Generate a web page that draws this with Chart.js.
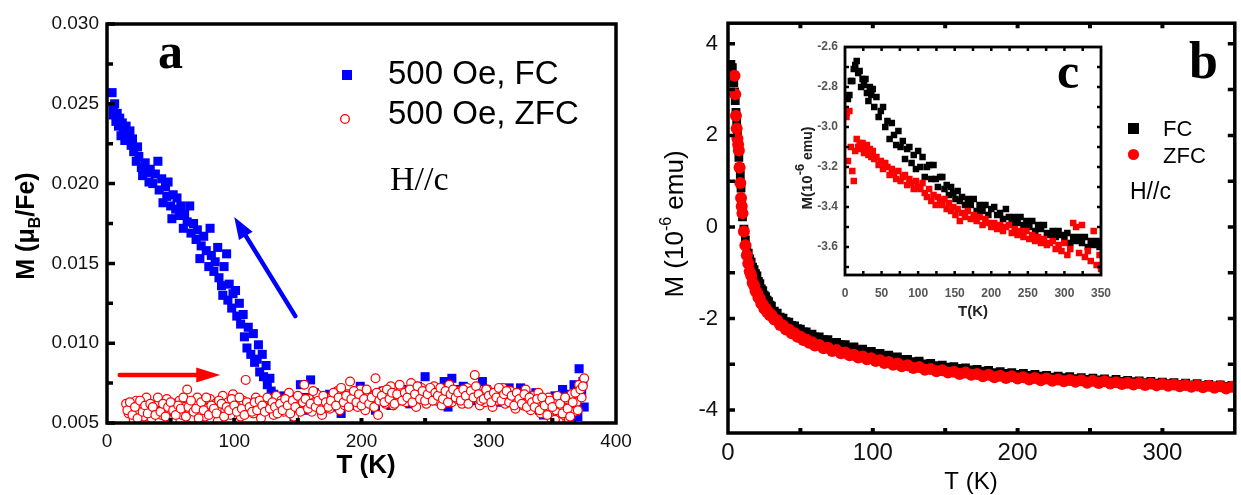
<!DOCTYPE html>
<html>
<head>
<meta charset="utf-8">
<script src="https://cdn.jsdelivr.net/npm/chart.js@4.4.1/dist/chart.umd.min.js"></script>
<style>
  html, body { margin: 0; padding: 0; background: #fff; }
  #wrap { position: relative; width: 1241px; height: 495px; overflow: hidden; background: #fff; }
  canvas { position: absolute; }
  #ca { left: 0; top: 0; }
  #cb { left: 640px; top: 0; }
  #cc { left: 780px; top: 30px; }
</style>
</head>
<body>
<div id="wrap">
  <canvas id="ca" width="660" height="495" style="width:660px;height:495px"></canvas>
  <canvas id="cb" width="601" height="495" style="width:601px;height:495px"></canvas>
  <canvas id="cc" width="360" height="295" style="width:360px;height:295px"></canvas>
</div>
<script>
// ---------- Panel a: M(T) in 500 Oe, H//c (muB/Fe) ----------
const aXTicks = [0, 100, 200, 300, 400];
const aYTicks = [0.005, 0.010, 0.015, 0.020, 0.025, 0.030];

const aFcT = [
  4,5,5,6,7,8,9,10,11,12,
  13,14,15,16,18,19,20,21,23,24,
  25,27,28,30,31,33,34,36,38,40,
  41,43,44,46,47,48,50,51,52,54,
  55,57,58,60,61,63,65,66,68,70,
  71,73,74,76,78,80,81,82,84,85,
  87,88,90,91,92,94,95,96,98,99,
  101,102,104,105,107,108,110,111,113,115,
  116,118,119,120,122,123,125,126,128,129,
  131,133,136,139,142,144,147,149,152,155,
  158,160,163,166,169,172,175,178,181,184,
  187,190,193,196,199,202,205,208,211,214,
  217,220,223,226,229,232,235,238,241,244,
  247,250,253,256,259,262,265,268,271,274,
  277,280,283,286,289,292,295,298,301,304,
  307,310,313,316,319,322,325,328,331,334,
  337,340,343,346,349,352,355,358,361,363,
  365,367,369,370,371,373,374,375
];
const aFcM = [
  0.0257,0.0248,0.0243,0.0250,0.0239,0.0244,0.0236,0.0241,0.0230,0.0238,
  0.0233,0.0227,0.0236,0.0229,0.0233,0.0224,0.0228,0.0220,0.0214,0.0223,
  0.0217,0.0210,0.0205,0.0213,0.0207,0.0201,0.0209,0.0200,0.0206,0.0214,
  0.0196,0.0203,0.0188,0.0198,0.0192,0.0201,0.0186,0.0178,0.0193,0.0184,
  0.0191,0.0180,0.0186,0.0172,0.0181,0.0176,0.0186,0.0169,0.0175,0.0165,
  0.0171,0.0153,0.0161,0.0167,0.0158,0.0148,0.0172,0.0155,0.0145,0.0151,
  0.0160,0.0141,0.0136,0.0130,0.0148,0.0156,0.0127,0.0137,0.0122,0.0131,
  0.0133,0.0117,0.0125,0.0112,0.0118,0.0104,0.0097,0.0110,0.0093,0.0106,
  0.0088,0.0090,0.0099,0.0082,0.0093,0.0079,0.0086,0.0074,0.0078,0.0070,
  0.0068,0.0066,0.0062,0.0067,0.0063,0.0057,0.0054,0.0061,0.0074,0.0066,
  0.0058,0.0077,0.0069,0.0063,0.0057,0.0062,0.0068,0.0060,0.0065,0.0056,
  0.0063,0.0068,0.0061,0.0066,0.0073,0.0069,0.0063,0.0067,0.0058,0.0064,
  0.0070,0.0066,0.0061,0.0068,0.0064,0.0071,0.0067,0.0062,0.0069,0.0073,
  0.0066,0.0079,0.0070,0.0064,0.0072,0.0068,0.0076,0.0060,0.0078,0.0071,
  0.0066,0.0073,0.0069,0.0064,0.0070,0.0067,0.0076,0.0071,0.0065,0.0069,
  0.0063,0.0070,0.0066,0.0072,0.0064,0.0068,0.0072,0.0062,0.0067,0.0063,
  0.0069,0.0058,0.0055,0.0064,0.0060,0.0067,0.0062,0.0071,0.0059,0.0068,
  0.0053,0.0074,0.0064,0.0054,0.0084,0.0069,0.0076,0.0060
];

// ZFC: odd temperatures first, then the even-temperature readings
const aZfcT = [
  15,17,19,21,23,25,27,29,31,33,
  35,37,39,41,43,45,47,49,51,53,
  55,57,59,61,63,65,67,69,71,73,
  75,77,79,81,83,85,87,89,91,93,
  95,97,99,101,103,105,107,109,111,113,
  115,117,119,121,123,125,127,129,131,133,
  135,137,139,141,143,145,147,149,151,153,
  155,157,159,161,163,165,167,169,171,173,
  175,177,179,181,183,185,187,189,191,193,
  195,197,199,201,203,205,207,209,211,213,
  215,217,219,221,223,225,227,229,231,233,
  235,237,239,241,243,245,247,249,251,253,
  255,257,259,261,263,265,267,269,271,273,
  275,277,279,281,283,285,287,289,291,293,
  295,297,299,301,303,305,307,309,311,313,
  315,317,319,321,323,325,327,329,331,333,
  335,337,339,341,343,345,347,349,351,353,
  355,357,359,361,363,365,367,369,371,373,
  375,
  16,18,20,22,24,26,28,30,32,34,
  36,38,40,42,44,46,48,50,52,54,
  56,58,60,62,64,66,68,70,72,74,
  76,78,80,82,84,86,88,90,92,94,
  96,98,100,102,104,106,108,110,112,114,
  116,118,120,122,124,126,128,130,132,134,
  136,138,140,142,144,146,148,150,152,154,
  156,158,160,162,164,166,168,170,172,174,
  176,178,180,182,184,186,188,190,192,194,
  196,198,200,202,204,206,208,210,212,214,
  216,218,220,222,224,226,228,230,232,234,
  236,238,240,242,244,246,248,250,252,254,
  256,258,260,262,264,266,268,270,272,274,
  276,278,280,282,284,286,288,290,292,294,
  296,298,300,302,304,306,308,310,312,314,
  316,318,320,322,324,326,328,330,332,334,
  336,338,340,342,344,346,348,350,352,354,
  356,358,360,362,364,366,368,370,372,374
];
const aZfcM = [
  0.0062,0.0056,0.0059,0.0052,0.0064,0.0058,0.0061,0.0054,0.0066,0.0059,
  0.0053,0.0061,0.0057,0.0063,0.0055,0.0060,0.0065,0.0058,0.0052,0.0062,
  0.0057,0.0064,0.0055,0.0060,0.0071,0.0058,0.0053,0.0062,0.0066,0.0056,
  0.0061,0.0054,0.0059,0.0065,0.0057,0.0062,0.0051,0.0060,0.0067,0.0058,
  0.0063,0.0055,0.0068,0.0059,0.0061,0.0054,0.0064,0.0077,0.0058,0.0062,
  0.0056,0.0066,0.0060,0.0053,0.0063,0.0058,0.0065,0.0061,0.0055,0.0067,
  0.0060,0.0064,0.0057,0.0062,0.0069,0.0059,0.0054,0.0063,0.0066,0.0058,
  0.0074,0.0061,0.0065,0.0057,0.0063,0.0068,0.0060,0.0055,0.0066,0.0062,
  0.0059,0.0067,0.0063,0.0070,0.0058,0.0064,0.0061,0.0068,0.0076,0.0062,
  0.0066,0.0060,0.0071,0.0064,0.0058,0.0069,0.0063,0.0067,0.0078,0.0055,
  0.0065,0.0070,0.0062,0.0068,0.0073,0.0061,0.0066,0.0064,0.0071,0.0067,
  0.0063,0.0069,0.0075,0.0065,0.0060,0.0068,0.0072,0.0066,0.0062,0.0070,
  0.0067,0.0073,0.0064,0.0069,0.0061,0.0071,0.0066,0.0074,0.0063,0.0068,
  0.0065,0.0070,0.0062,0.0067,0.0072,0.0064,0.0069,0.0080,0.0066,0.0061,
  0.0068,0.0063,0.0071,0.0066,0.0060,0.0069,0.0064,0.0067,0.0072,0.0062,
  0.0066,0.0070,0.0063,0.0059,0.0068,0.0065,0.0061,0.0071,0.0064,0.0058,
  0.0067,0.0062,0.0069,0.0056,0.0064,0.0060,0.0066,0.0053,0.0063,0.0058,
  0.0051,0.0061,0.0055,0.0065,0.0052,0.0068,0.0057,0.0063,0.0074,0.0066,
  0.0078,
  0.0058,0.0063,0.0055,0.0060,0.0053,0.0064,0.0057,0.0061,0.0056,0.0062,
  0.0060,0.0055,0.0066,0.0057,0.0062,0.0054,0.0060,0.0063,0.0058,0.0055,
  0.0061,0.0059,0.0066,0.0054,0.0060,0.0064,0.0057,0.0059,0.0053,0.0063,
  0.0058,0.0066,0.0055,0.0061,0.0059,0.0056,0.0064,0.0062,0.0054,0.0060,
  0.0058,0.0065,0.0061,0.0057,0.0066,0.0059,0.0055,0.0063,0.0060,0.0057,
  0.0063,0.0058,0.0064,0.0061,0.0057,0.0066,0.0059,0.0063,0.0060,0.0056,
  0.0062,0.0058,0.0065,0.0061,0.0056,0.0064,0.0060,0.0067,0.0057,0.0063,
  0.0065,0.0059,0.0062,0.0070,0.0060,0.0064,0.0058,0.0067,0.0063,0.0060,
  0.0064,0.0069,0.0061,0.0066,0.0072,0.0063,0.0067,0.0060,0.0065,0.0070,
  0.0063,0.0068,0.0061,0.0065,0.0071,0.0062,0.0066,0.0060,0.0069,0.0064,
  0.0067,0.0063,0.0071,0.0065,0.0069,0.0062,0.0068,0.0074,0.0064,0.0069,
  0.0066,0.0071,0.0063,0.0068,0.0073,0.0065,0.0070,0.0064,0.0068,0.0072,
  0.0064,0.0069,0.0067,0.0072,0.0065,0.0070,0.0063,0.0068,0.0071,0.0066,
  0.0069,0.0064,0.0071,0.0067,0.0062,0.0070,0.0066,0.0073,0.0068,0.0064,
  0.0065,0.0071,0.0067,0.0063,0.0069,0.0066,0.0072,0.0064,0.0068,0.0070,
  0.0063,0.0067,0.0061,0.0069,0.0065,0.0062,0.0068,0.0060,0.0066,0.0063,
  0.0060,0.0065,0.0058,0.0066,0.0061,0.0055,0.0064,0.0060,0.0052,0.0067,
  0.0062,0.0056,0.0066,0.0059,0.0054,0.0063,0.0069,0.0058,0.0071,0.0073
];

// ---------- Panel b: M(T) in 1e-6 emu ----------
const bXTicks = [0, 100, 200, 300];
const bYTicks = [-4, -2, 0, 2, 4];
const bT = [
  2,3,3.5,4,4.5,5,5.5,6,6.5,7,
  7.5,8,8.5,9,9.5,10,11,12,13,14,
  15,16,17,18,19,20,21,22,23,24,
  25,26,27,28,29,30,32,34,36,38,
  40,42,44,46,48,50,52,54,56,58,
  60,63,66,69,72,75,78,81,84,87,
  90,93,96,99,102,105,108,111,114,117,
  120,124,128,132,136,140,144,148,152,156,
  160,164,168,172,176,180,184,188,192,196,
  200,204,208,212,216,220,224,228,232,236,
  240,244,248,252,256,260,264,268,272,276,
  280,284,288,292,296,300,304,308,312,316,
  320,324,328,332,336,340,344,348
];
const bFc = [
  3.55,3.48,3.30,3.15,2.95,2.76,2.50,2.26,2.00,1.74,
  1.52,1.30,1.13,0.85,0.55,0.22,-0.05,-0.28,-0.45,-0.57,
  -0.70,-0.77,-0.88,-0.93,-1.02,-1.07,-1.19,-1.24,-1.35,-1.39,
  -1.49,-1.52,-1.60,-1.63,-1.71,-1.73,-1.84,-1.88,-1.97,-1.99,
  -2.07,-2.08,-2.15,-2.16,-2.22,-2.23,-2.29,-2.29,-2.35,-2.34,
  -2.40,-2.40,-2.46,-2.46,-2.52,-2.52,-2.57,-2.57,-2.63,-2.62,
  -2.68,-2.67,-2.73,-2.72,-2.77,-2.76,-2.81,-2.80,-2.85,-2.84,
  -2.89,-2.89,-2.94,-2.93,-2.99,-2.98,-3.03,-3.02,-3.06,-3.05,
  -3.09,-3.08,-3.12,-3.11,-3.15,-3.13,-3.18,-3.16,-3.20,-3.18,
  -3.22,-3.20,-3.24,-3.22,-3.26,-3.24,-3.28,-3.26,-3.29,-3.27,
  -3.31,-3.29,-3.33,-3.30,-3.34,-3.32,-3.36,-3.33,-3.37,-3.35,
  -3.38,-3.36,-3.40,-3.37,-3.41,-3.39,-3.42,-3.40,-3.44,-3.41,
  -3.45,-3.42,-3.46,-3.44,-3.47,-3.45,-3.48,-3.46
];
const bZfc = [
  null,null,null,null,3.30,2.90,2.43,2.15,1.93,1.80,
  1.67,1.30,0.96,0.63,0.45,0.30,-0.10,-0.40,-0.62,-0.80,
  -0.97,-1.06,-1.22,-1.28,-1.40,-1.43,-1.54,-1.57,-1.67,-1.69,
  -1.78,-1.78,-1.86,-1.86,-1.93,-1.92,-2.02,-2.04,-2.14,-2.15,
  -2.24,-2.24,-2.32,-2.32,-2.40,-2.40,-2.47,-2.46,-2.53,-2.52,
  -2.59,-2.58,-2.65,-2.64,-2.71,-2.69,-2.76,-2.74,-2.80,-2.79,
  -2.85,-2.83,-2.89,-2.87,-2.93,-2.91,-2.97,-2.95,-3.01,-2.98,
  -3.04,-3.02,-3.08,-3.06,-3.12,-3.10,-3.15,-3.13,-3.18,-3.16,
  -3.21,-3.18,-3.23,-3.21,-3.26,-3.23,-3.28,-3.25,-3.30,-3.26,
  -3.31,-3.28,-3.33,-3.30,-3.35,-3.31,-3.36,-3.33,-3.37,-3.34,
  -3.38,-3.35,-3.40,-3.36,-3.41,-3.37,-3.42,-3.39,-3.43,-3.40,
  -3.44,-3.41,-3.45,-3.42,-3.46,-3.43,-3.47,-3.44,-3.48,-3.45,
  -3.49,-3.46,-3.50,-3.47,-3.51,-3.48,-3.53,-3.49
];

// ---------- Panel c (inset): M(T) in 1e-6 emu ----------
const cXTicks = [0, 50, 100, 150, 200, 250, 300, 350];
const cYTicks = [-3.6, -3.4, -3.2, -3.0, -2.8, -2.6];
const cT = [
  2,4,6,8,10,12,14,16,18,20,
  22,24,26,28,30,32,34,36,38,40,
  43,46,49,52,55,58,61,64,67,70,
  73,76,79,82,85,88,91,94,97,100,
  103,106,109,112,115,118,121,124,127,130,
  133,136,139,142,145,148,151,154,157,160,
  164,168,172,176,180,184,188,192,196,200,
  204,208,212,216,220,224,228,232,236,240,
  244,248,252,256,260,264,268,272,276,280,
  284,288,292,296,300,304,308,312,316,320,
  324,328,332,336,340,344,348,350
];
const cFc = [
  -2.93,-2.86,-2.84,-2.77,-2.77,-2.71,-2.69,-2.67,-2.73,-2.72,
  -2.80,-2.76,-2.79,-2.76,-2.83,-2.87,-2.80,-2.84,-2.81,-2.90,
  -2.85,-2.95,-2.92,-2.90,-3.00,-2.97,-3.06,-2.98,-3.04,-3.09,
  -3.02,-3.10,-3.07,-3.16,-3.11,-3.10,-3.18,-3.14,-3.21,-3.12,
  -3.20,-3.15,-3.25,-3.20,-3.19,-3.26,-3.19,-3.26,-3.30,-3.25,
  -3.25,-3.31,-3.29,-3.34,-3.30,-3.33,-3.36,-3.32,-3.37,-3.35,
  -3.39,-3.36,-3.39,-3.36,-3.42,-3.39,-3.42,-3.39,-3.44,-3.41,
  -3.40,-3.44,-3.43,-3.46,-3.41,-3.45,-3.48,-3.45,-3.48,-3.45,
  -3.49,-3.47,-3.50,-3.47,-3.52,-3.49,-3.51,-3.49,-3.53,-3.54,
  -3.52,-3.55,-3.52,-3.54,-3.56,-3.53,-3.58,-3.55,-3.57,-3.55,
  -3.58,-3.55,-3.60,-3.57,-3.59,-3.57,-3.60,-3.58
];
const cZfc = [
  -2.95,-3.17,-2.92,-3.10,-3.22,-3.27,-3.12,-3.06,-3.10,-3.08,
  -3.11,-3.08,-3.13,-3.10,-3.09,-3.14,-3.11,-3.15,-3.12,-3.16,
  -3.15,-3.19,-3.17,-3.21,-3.18,-3.20,-3.24,-3.21,-3.23,-3.26,
  -3.22,-3.27,-3.25,-3.24,-3.29,-3.26,-3.28,-3.31,-3.27,-3.30,
  -3.31,-3.28,-3.33,-3.35,-3.31,-3.37,-3.34,-3.39,-3.35,-3.37,
  -3.39,-3.36,-3.41,-3.38,-3.42,-3.40,-3.44,-3.41,-3.47,-3.43,
  -3.45,-3.42,-3.46,-3.44,-3.47,-3.45,-3.49,-3.46,-3.48,-3.50,
  -3.48,-3.51,-3.49,-3.52,-3.50,-3.49,-3.53,-3.51,-3.54,-3.52,
  -3.55,-3.52,-3.56,-3.54,-3.57,-3.55,-3.58,-3.56,-3.59,-3.58,
  -3.57,-3.61,-3.59,-3.62,-3.58,-3.64,-3.61,-3.48,-3.50,-3.63,
  -3.49,-3.65,-3.62,-3.67,-3.52,-3.69,-3.64,-3.71
];

// ---------- shared helpers ----------
const SANS = '"Liberation Sans", Arial, Helvetica, sans-serif';
const SERIF = '"Liberation Serif", "Times New Roman", Times, serif';
const BLUE = '#0000ff', RED = '#ff0000', BLACK = '#000000';

function pts(xs, ys) {
  return xs.map((x, i) => ({ x: x, y: ys[i] })).filter(p => p.y !== null);
}

function axis(min, max, tickVals, fmt, font, color, pad, size) {
  return {
    type: 'linear', min: min, max: max,
    grid: { display: false, drawTicks: false },
    border: { display: false },
    ticks: { autoSkip: false, maxRotation: 0, padding: pad, color: color, font: font, callback: fmt },
    afterBuildTicks: s => { s.ticks = tickVals.map(v => ({ value: v })); },
    afterFit: s => { if (s.isHorizontal()) s.height = size; else s.width = size; }
  };
}

// text made of runs (for sub/superscripts); x,y is the baseline anchor
function runs(ctx, parts, x, y, rot, align) {
  ctx.save();
  ctx.translate(x, y);
  if (rot) ctx.rotate(rot);
  ctx.textBaseline = 'alphabetic';
  ctx.textAlign = 'left';
  let total = 0;
  parts.forEach(p => { ctx.font = p.font; p.w = ctx.measureText(p.text).width; total += p.w; });
  let cx = align === 'left' ? 0 : -total / 2;
  parts.forEach(p => {
    ctx.font = p.font;
    ctx.fillStyle = p.color || BLACK;
    ctx.fillText(p.text, cx, p.dy || 0);
    cx += p.w;
  });
  ctx.restore();
}

function arrow(ctx, x1, y1, x2, y2, color, lw, hl, hw) {
  const a = Math.atan2(y2 - y1, x2 - x1);
  const bx = x2 - hl * Math.cos(a), by = y2 - hl * Math.sin(a);
  ctx.save();
  ctx.strokeStyle = color; ctx.fillStyle = color;
  ctx.lineWidth = lw; ctx.lineCap = 'round';
  ctx.beginPath(); ctx.moveTo(x1, y1); ctx.lineTo(bx, by); ctx.stroke();
  ctx.beginPath();
  ctx.moveTo(x2, y2);
  ctx.lineTo(bx + hw * Math.sin(a), by - hw * Math.cos(a));
  ctx.lineTo(bx - hw * Math.sin(a), by + hw * Math.cos(a));
  ctx.closePath(); ctx.fill();
  ctx.restore();
}

// boxed frame with inward tick marks on the requested sides
function framePlugin(id, frameWidth, tickSets, extra) {
  return {
    id: id,
    afterDatasetsDraw(chart) {
      const { ctx, chartArea: a, scales } = chart;
      ctx.save();
      ctx.strokeStyle = BLACK;
      ctx.lineCap = 'butt';
      tickSets.forEach(t => {
        ctx.lineWidth = t.width;
        ctx.beginPath();
        t.values.forEach(v => {
          if (t.side === 'left' || t.side === 'right') {
            const py = scales.y.getPixelForValue(v);
            const x0 = t.side === 'left' ? a.left : a.right;
            const dir = t.side === 'left' ? 1 : -1;
            ctx.moveTo(x0, py); ctx.lineTo(x0 + dir * t.len, py);
          } else {
            const px = scales.x.getPixelForValue(v);
            const y0 = t.side === 'bottom' ? a.bottom : a.top;
            const dir = t.side === 'bottom' ? -1 : 1;
            ctx.moveTo(px, y0); ctx.lineTo(px, y0 + dir * t.len);
          }
        });
        ctx.stroke();
      });
      ctx.lineWidth = frameWidth;
      ctx.strokeRect(a.left, a.top, a.right - a.left, a.bottom - a.top);
      ctx.restore();
    },
    afterDraw(chart) { if (extra) extra(chart); }
  };
}

const baseOptions = {
  responsive: false, animation: false, devicePixelRatio: 1, events: [],
  plugins: { legend: { display: false }, tooltip: { enabled: false } }
};

// ---------- chart a ----------
const aMinor = [0.0075, 0.0125, 0.0175, 0.0225, 0.0275];
const aXMarks = [50, 100, 150, 200, 250, 300, 350];
const decorA = framePlugin('frameA', 3.5, [
  { side: 'left', values: aYTicks, len: 8, width: 3.5 },
  { side: 'left', values: aMinor, len: 6, width: 3.5 },
  { side: 'bottom', values: aXMarks, len: 5, width: 4 }
], chart => {
  const ctx = chart.ctx, x = chart.scales.x, y = chart.scales.y;
  // field-direction arrows
  arrow(ctx, x.getPixelForValue(148), y.getPixelForValue(0.0117),
        x.getPixelForValue(100), y.getPixelForValue(0.0179), BLUE, 4.5, 22, 8);
  arrow(ctx, x.getPixelForValue(10), y.getPixelForValue(0.0080),
        x.getPixelForValue(89), y.getPixelForValue(0.0080), RED, 4.5, 24, 7.5);
  // axis titles
  runs(ctx, [
    { text: 'M (\u03bc', font: 'bold 25px ' + SANS },
    { text: 'B', font: 'bold 16px ' + SANS, dy: 6 },
    { text: '/Fe)', font: 'bold 25px ' + SANS }
  ], 34, 226, -Math.PI / 2);
  runs(ctx, [{ text: 'T (K)', font: 'bold 26px ' + SANS }], 366, 473, 0);
  // panel letter and legend
  runs(ctx, [{ text: 'a', font: 'bold 50px ' + SERIF }], 158, 68, 0, 'left');
  ctx.save();
  ctx.fillStyle = BLUE;
  ctx.fillRect(342, 70, 10, 10);
  ctx.beginPath(); ctx.arc(345, 119, 4.3, 0, Math.PI * 2);
  ctx.fillStyle = '#fff'; ctx.fill();
  ctx.strokeStyle = RED; ctx.lineWidth = 1.3; ctx.stroke();
  ctx.restore();
  runs(ctx, [{ text: '500 Oe, FC', font: '33px ' + SANS }], 388, 84, 0, 'left');
  runs(ctx, [{ text: '500 Oe, ZFC', font: '33px ' + SANS }], 388, 124, 0, 'left');
  runs(ctx, [{ text: 'H//c', font: '34px ' + SERIF }], 390, 190, 0, 'left');
});

new Chart(document.getElementById('ca'), {
  type: 'scatter',
  data: {
    datasets: [
      { label: '500 Oe, FC', data: pts(aFcT, aFcM), pointStyle: 'rect', pointRadius: 6.4,
        pointBackgroundColor: BLUE, pointBorderWidth: 0, order: 2, clip: 0 },
      { label: '500 Oe, ZFC', data: pts(aZfcT, aZfcM), pointStyle: 'circle', pointRadius: 4.4,
        pointBackgroundColor: '#ffffff', pointBorderColor: RED, pointBorderWidth: 1.2, order: 1, clip: 0 }
    ]
  },
  options: Object.assign({}, baseOptions, {
    layout: { padding: { left: 0, top: 24, right: 44, bottom: 0 } },
    scales: {
      x: axis(0, 400, aXTicks, v => String(v), { family: SANS, size: 19 }, '#111', 7, 72),
      y: axis(0.005, 0.030, aYTicks, v => v.toFixed(3), { family: SANS, size: 19 }, '#111', 8, 107)
    }
  }),
  plugins: [decorA]
});

// ---------- chart b ----------
const bYMarks = [-4, -3, -2, -1, 0, 1, 2, 3, 4];
const bXMarks = [50, 100, 150, 200, 250, 300];
const decorB = framePlugin('frameB', 3.5, [
  { side: 'left', values: bYMarks, len: 7, width: 3.5 },
  { side: 'right', values: bYMarks, len: 7, width: 3.5 },
  { side: 'top', values: bXMarks, len: 5, width: 4 },
  { side: 'bottom', values: bXMarks, len: 5, width: 4 }
], chart => {
  const ctx = chart.ctx;
  runs(ctx, [
    { text: 'M (10', font: '26px ' + SANS },
    { text: '-6', font: '16px ' + SANS, dy: -12 },
    { text: ' emu)', font: '26px ' + SANS }
  ], 43, 224, -Math.PI / 2);
  runs(ctx, [{ text: 'T (K)', font: '24px ' + SANS }], 331, 489, 0);
  runs(ctx, [{ text: 'b', font: 'bold 52px ' + SERIF }], 549, 78, 0, 'left');
  ctx.save();
  ctx.fillStyle = BLACK;
  ctx.fillRect(488, 123, 11, 11);
  ctx.fillStyle = RED;
  ctx.beginPath(); ctx.arc(493.5, 154.5, 5.6, 0, Math.PI * 2); ctx.fill();
  ctx.restore();
  runs(ctx, [{ text: 'FC', font: '22px ' + SANS }], 523, 136, 0, 'left');
  runs(ctx, [{ text: 'ZFC', font: '22px ' + SANS }], 523, 163, 0, 'left');
  runs(ctx, [{ text: 'H//c', font: '23px ' + SANS }], 490, 199, 0, 'left');
});

new Chart(document.getElementById('cb'), {
  type: 'scatter',
  data: {
    datasets: [
      { label: 'FC', data: pts(bT, bFc), pointStyle: 'rect', pointRadius: 6.2,
        pointBackgroundColor: BLACK, pointBorderWidth: 0, order: 2, clip: 0 },
      { label: 'ZFC', data: pts(bT, bZfc), pointStyle: 'circle', pointRadius: 6,
        pointBackgroundColor: RED, pointBorderWidth: 0, order: 1, clip: 0 }
    ]
  },
  options: Object.assign({}, baseOptions, {
    layout: { padding: { left: 0, top: 22, right: 4, bottom: 0 } },
    scales: {
      x: axis(0, 350, bXTicks, v => String(v), { family: SANS, size: 24 }, '#111', 6, 62),
      y: axis(-4.5, 4.45, bYTicks, v => String(v), { family: SANS, size: 22 }, '#111', 10, 88)
    }
  }),
  plugins: [decorB]
});

// ---------- chart c (inset) ----------
const cYMarks = [-3.7, -3.6, -3.5, -3.4, -3.3, -3.2, -3.1, -3.0, -2.9, -2.8, -2.7];
const cXMarks = [25, 50, 75, 100, 125, 150, 175, 200, 225, 250, 275, 300, 325];
const decorC = framePlugin('frameC', 2.8, [
  { side: 'left', values: cYMarks, len: 4, width: 2.5 },
  { side: 'right', values: cYMarks, len: 4, width: 2.5 },
  { side: 'top', values: cXMarks, len: 4, width: 2.5 },
  { side: 'bottom', values: cXMarks, len: 4, width: 2.5 }
], chart => {
  const ctx = chart.ctx;
  runs(ctx, [
    { text: 'M(10', font: 'bold 15px ' + SANS, color: '#222' },
    { text: '-6', font: 'bold 13px ' + SANS, dy: -8, color: '#222' },
    { text: ' emu)', font: 'bold 14px ' + SANS, color: '#222' }
  ], 32, 138, -Math.PI / 2);
  runs(ctx, [{ text: 'T(K)', font: 'bold 15px ' + SANS, color: '#222' }], 193, 286, 0);
  runs(ctx, [{ text: 'c', font: 'bold 50px ' + SERIF }], 277, 58, 0, 'left');
});

new Chart(document.getElementById('cc'), {
  type: 'scatter',
  data: {
    datasets: [
      { label: 'FC', data: pts(cT, cFc), pointStyle: 'rect', pointRadius: 4.6,
        pointBackgroundColor: BLACK, pointBorderWidth: 0, order: 2, clip: 0 },
      { label: 'ZFC', data: pts(cT, cZfc), pointStyle: 'rect', pointRadius: 4.6,
        pointBackgroundColor: RED, pointBorderWidth: 0, order: 1, clip: 0 }
    ]
  },
  options: Object.assign({}, baseOptions, {
    layout: { padding: { left: 0, top: 17, right: 39, bottom: 0 } },
    scales: {
      x: axis(0, 350, cXTicks, v => String(v), { family: SANS, size: 12, weight: 'bold' }, '#555', 11, 50),
      y: axis(-3.74, -2.6, cYTicks, v => v.toFixed(1), { family: SANS, size: 12, weight: 'bold' }, '#555', 7, 65)
    }
  }),
  plugins: [decorC]
});
</script>
</body>
</html>
